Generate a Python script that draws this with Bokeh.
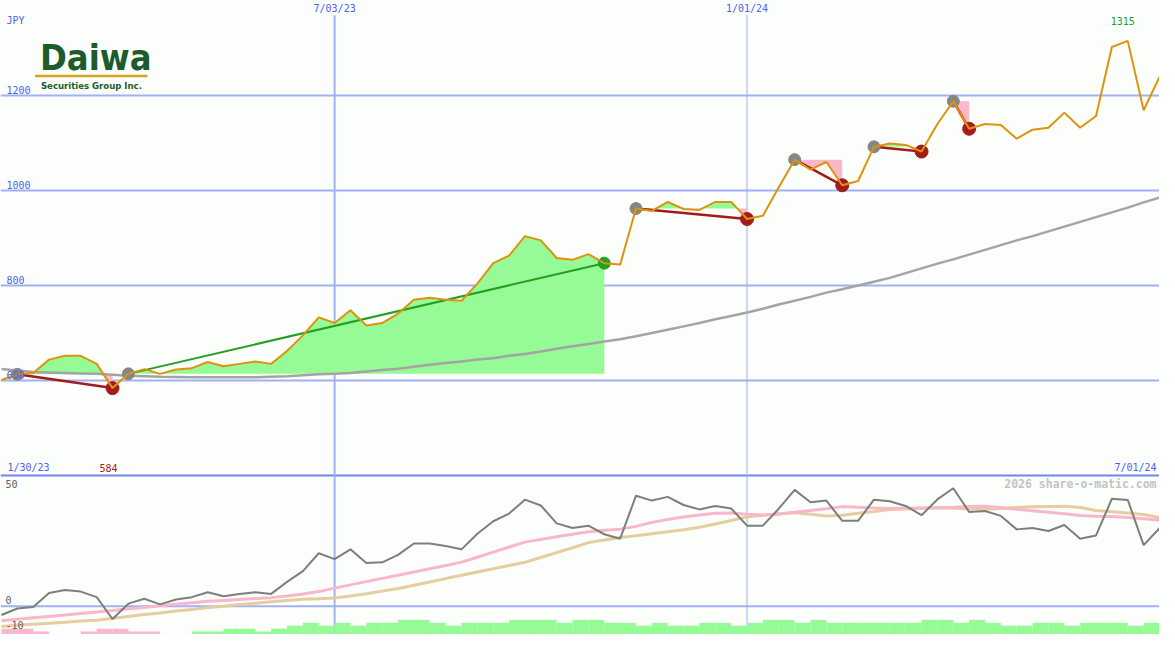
import numpy as np
import pandas as pd
from bokeh.plotting import figure
from bokeh.models import Range1d, Span
from bokeh.core.properties import value
from bokeh.embed import file_html
from bokeh.resources import INLINE

# ---------------- data ----------------
week_start = pd.date_range("2023-01-30", periods=74, freq="7D")

price = [601, 613, 616, 644, 652, 652, 635, 584, 614, 624,
         614, 623, 626, 639, 630, 635, 640, 635, 662, 695,
         733, 721, 748, 716, 721, 741, 770, 774, 770, 768,
         804, 847, 863, 904, 895, 858, 854, 866, 847, 844,
         962, 957, 976, 961, 959, 976, 976, 940, 947, 1007,
         1065, 1044, 1060, 1011, 1020, 1092, 1099, 1096, 1082, 1140,
         1188, 1130, 1140, 1138, 1109, 1128, 1132, 1164, 1132, 1157,
         1302, 1315, 1169, 1239]

ma_long = [624, 621, 618, 617, 616, 615, 614, 612, 610, 609,
           608, 607.5, 607, 607, 607, 607, 607, 608, 609, 611,
           613, 614, 616, 619, 622, 625, 629, 633, 637, 640,
           644, 647, 652, 656, 661, 667, 672, 677, 682, 687,
           693, 700, 707, 714, 721, 729, 736, 743, 751, 760,
           768, 776, 785, 792, 800, 808, 816, 826, 836, 846,
           855, 865, 875, 885, 895, 904, 914, 924, 934, 944,
           954, 964, 975, 985]

osc = [-3.8, -1.0, -0.3, 5.7, 7.0, 6.3, 3.9, -5.5, 1.1, 3.2,
       0.8, 2.9, 3.9, 6.0, 4.3, 5.3, 6.0, 5.3, 10.5, 15.1,
       22.8, 20.3, 24.5, 18.6, 18.9, 22.1, 27.0, 27.0, 25.9, 24.5,
       31.2, 36.6, 39.9, 45.9, 43.4, 35.7, 33.7, 34.7, 31.0, 29.1,
       47.6, 45.5, 47.1, 43.6, 41.7, 43.2, 42.1, 34.7, 34.7, 42.0,
       50.1, 44.8, 45.5, 36.8, 36.8, 45.9, 45.2, 43.2, 39.2, 46.0,
       50.8, 40.6, 41.0, 38.9, 33.1, 33.7, 32.4, 35.0, 29.1, 30.5,
       46.3, 45.8, 26.3, 33.6]

osc_fast = [-6.3, -5.6, -5.0, -4.4, -3.8, -3.1, -2.5, -1.8, -1.1, -0.5,
            0.2, 0.9, 1.5, 2.1, 2.5, 2.9, 3.3, 3.7, 4.4, 5.3,
            6.3, 7.8, 9.2, 10.6, 12.0, 13.3, 14.7, 16.1, 17.5, 19.0,
            21.1, 23.3, 25.5, 27.6, 28.8, 29.9, 31.0, 32.1, 32.7, 33.2,
            34.4, 36.1, 37.4, 38.4, 39.3, 40.0, 40.1, 39.6, 39.3, 39.7,
            40.5, 41.2, 42.0, 42.9, 42.6, 42.3, 42.1, 42.2, 42.3, 42.4,
            42.6, 42.9, 43.1, 42.5, 41.8, 41.1, 40.5, 39.8, 39.1, 38.8,
            38.6, 38.2, 37.7, 37.1]

osc_slow = [-8.7, -8.2, -7.8, -7.3, -6.9, -6.4, -6.0, -5.2, -4.4, -3.6,
            -2.9, -2.1, -1.4, -0.6, 0.0, 0.7, 1.3, 1.9, 2.5, 3.0,
            3.2, 3.5, 4.4, 5.4, 6.5, 7.6, 9.0, 10.4, 11.9, 13.3,
            14.7, 16.1, 17.5, 18.9, 21.0, 23.1, 25.2, 27.4, 28.5, 29.6,
            30.4, 31.2, 32.1, 32.9, 34.0, 35.4, 36.9, 38.5, 39.2, 39.8,
            40.3, 39.6, 38.9, 39.2, 40.0, 40.8, 41.7, 41.9, 42.2, 42.4,
            42.2, 42.0, 41.8, 42.1, 42.5, 42.8, 43.0, 43.1, 42.5, 41.2,
            40.7, 40.2, 39.5, 38.2]

strength = [-2, -2, -1, 0, 0, -1, -2, -2, -1, -1,
            0, 0, 1, 1, 2, 2, 1, 2, 3, 4,
            3, 4, 3, 4, 4, 5, 5, 4, 3, 4,
            4, 4, 5, 5, 5, 4, 5, 5, 4, 4,
            3, 4, 3, 3, 4, 4, 3, 4, 5, 5,
            4, 5, 4, 4, 4, 4, 4, 4, 5, 5,
            4, 5, 4, 3, 3, 4, 4, 3, 4, 4,
            4, 3, 4, 4]

down_moves = [(1, 7), (40, 47), (50, 53), (55, 58), (60, 61)]
up_moves = [(8, 38)]

price_ticks = [600, 800, 1000, 1200]
osc_ticks = [50, 0, -10]
date_marks = ["2023-07-03", "2024-01-01"]

# ---------------- layout constants ----------------
W_REF, H_REF = 1175, 650
W, H = 1159, 634
BG = "#fbfefb"
GRID = "#a3b0f2"
DIV = "#7585ee"
BLUE_TXT = "#5060f0"
MONO = value("DejaVu Sans Mono")
LOGO_FONT = value("'DejaVu Sans Condensed', 'Liberation Sans', sans-serif")

t = (week_start + pd.Timedelta(days=7))
t_ms = np.array([(d - pd.Timestamp("1970-01-01")).total_seconds() * 1000.0 for d in t])
week_ms = 7 * 24 * 3600 * 1000.0
x_lo = t_ms[0] - week_ms / 16.08
x_hi = t_ms[-1]
y_lo, y_hi = 65.3, 1400.0          # price units over whole canvas
o_lo, o_hi = -12.18, 260.9          # oscillator units over whole canvas

def tx(px):
    return x_lo + (x_hi - x_lo) * px / W_REF

def ty(py):
    return y_hi - (y_hi - y_lo) * py / H_REF

def to_ms(s):
    return (pd.Timestamp(s) - pd.Timestamp("1970-01-01")).total_seconds() * 1000.0

p = figure(width=W, height=H, x_range=Range1d(x_lo, x_hi), y_range=Range1d(y_lo, y_hi),
           x_axis_location=None, y_axis_location=None, toolbar_location=None,
           output_backend="svg", min_border=0, background_fill_color=BG,
           border_fill_color=BG, outline_line_color=None)
p.extra_y_ranges = {"osc": Range1d(o_lo, o_hi)}
p.grid.visible = False

# grid lines
for v in price_ticks:
    p.add_layout(Span(location=v, dimension="width", line_color=GRID, line_width=2, level="underlay"))
p.add_layout(Span(location=400, dimension="width", line_color=DIV, line_width=2, level="underlay"))
p.add_layout(Span(location=0, dimension="width", line_color=GRID, line_width=2, level="underlay",
                  y_range_name="osc"))
vx = [to_ms(d) for d in date_marks]
p.segment(x0=vx, y0=[ty(15)] * 2, x1=vx, y1=[y_lo] * 2, line_color=GRID, line_width=[2, 1])

# fills between move start level and price
def crossings(xs, ys, level):
    ox, oy = [xs[0]], [ys[0]]
    for k in range(1, len(xs)):
        a, b = ys[k - 1], ys[k]
        if (a - level) * (b - level) < 0:
            f = (level - a) / (b - a)
            ox.append(xs[k - 1] + f * (xs[k] - xs[k - 1]))
            oy.append(level)
        ox.append(xs[k])
        oy.append(b)
    return np.array(ox), np.array(oy)

GREEN_FILL = "#96fa96"
PINK_FILL = "#fab6ca"
pr = np.array(price, dtype=float)
for s, e in down_moves + up_moves:
    lvl = pr[s]
    xs, ys = crossings(t_ms[s:e + 1], pr[s:e + 1], lvl)
    p.varea(x=xs, y1=np.full(len(xs), lvl), y2=np.maximum(ys, lvl), fill_color=GREEN_FILL)
    p.varea(x=xs, y1=np.minimum(ys, lvl), y2=np.full(len(xs), lvl), fill_color=PINK_FILL)

# long moving average
p.line(t_ms, ma_long, line_color="#a4a4a4", line_width=2.5)

# trend lines
for s, e in down_moves:
    p.line([t_ms[s], t_ms[e]], [pr[s], pr[e]], line_color="#a31c1c", line_width=2.5)
for s, e in up_moves:
    p.line([t_ms[s], t_ms[e]], [pr[s], pr[e]], line_color="#22a022", line_width=2)

starts = [s for s, e in down_moves + up_moves]
p.scatter(t_ms[starts], pr[starts], size=12, fill_color="#868686", line_color="#868686")
ends_d = [e for s, e in down_moves]
p.scatter(t_ms[ends_d], pr[ends_d], size=13, fill_color="#a31c1c", line_color="#a31c1c")
ends_u = [e for s, e in up_moves]
p.scatter(t_ms[ends_u], pr[ends_u], size=12, fill_color="#22a022", line_color="#22a022")

# price
p.line(t_ms, price, line_color="#dd940c", line_width=2)

# bottom panel
step = 1.26
st = np.array(strength)
p.quad(left=t_ms, right=t_ms + week_ms, bottom=np.full(len(st), o_lo),
       top=o_lo + np.abs(st) * step,
       fill_color=[GREEN_FILL if v > 0 else PINK_FILL for v in st],
       line_color=None, y_range_name="osc")
p.line(t_ms, osc_slow, line_color="#e6cda0", line_width=3, y_range_name="osc")
p.line(t_ms, osc_fast, line_color="#fab6ca", line_width=3, y_range_name="osc")
p.line(t_ms, osc, line_color="#7e7e7e", line_width=2, y_range_name="osc")

# texts (vertically centred on the given position)
def txt(xs, ys, texts, color, align="left", size="10px", style="normal", font=MONO):
    p.text(x=xs, y=ys, text=texts, text_color=color, text_align=align,
           text_baseline="middle", text_font=font, text_font_size=size,
           text_font_style=style)

px_unit = (y_hi - y_lo) / H_REF
txt([tx(6)], [ty(21)], ["JPY"], BLUE_TXT)
txt([tx(6)] * len(price_ticks), [v + 6 * px_unit for v in price_ticks],
    [str(v) for v in price_ticks], BLUE_TXT)
txt(vx, [ty(8)] * 2, [pd.Timestamp(d).strftime("%-m/%d/%y") for d in date_marks], BLUE_TXT, align="center")
imax = int(np.argmax(pr))
imin = int(np.argmin(pr))
txt([t_ms[imax] - (x_hi - x_lo) * 5 / W_REF], [ty(21)], [str(int(pr[imax]))], "#22a022", align="center")
txt([t_ms[imin] - (x_hi - x_lo) * 4 / W_REF], [ty(479)], [str(int(pr[imin]))], "#a31c1c", align="center")
txt([tx(7)], [ty(479)], [week_start[0].strftime("%-m/%d/%y")], BLUE_TXT)
txt([tx(1172)], [ty(479)], [t[-1].strftime("%-m/%d/%y")], BLUE_TXT, align="right")
txt([tx(5)] * 3, [ty(495.5), ty(615), ty(640)], [str(v) for v in osc_ticks], "#606060")
txt([tx(1172)], [ty(496)], ["2026 share-o-matic.com"], "#c4c4c4", align="right", size="11.5px", style="bold")

# logo
txt([tx(40)], [ty(58)], ["Daiwa"], "#1d5b2d", size="36px", style="bold", font=LOGO_FONT)
p.segment(x0=[tx(35)], y0=[ty(77.5)], x1=[tx(149)], y1=[ty(77.5)], line_color="#d9a21c", line_width=2.5)
txt([tx(41)], [ty(87)], ["Securities Group Inc."], "#1d5b2d", size="9.5px", style="bold", font=LOGO_FONT)

open("out.html", "w").write(file_html(p, INLINE))
